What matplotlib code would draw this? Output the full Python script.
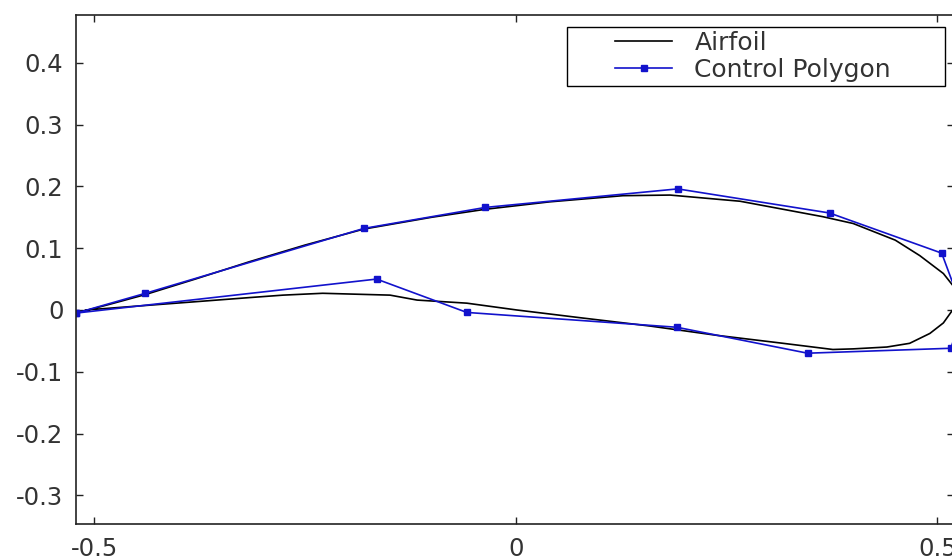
import matplotlib
matplotlib.use("Agg")
import matplotlib.pyplot as plt
from matplotlib.patches import Rectangle

# Airfoil outline: trailing edge -> upper surface -> nose -> lower surface -> trailing edge
airfoil_x = [-0.521, -0.482, -0.439, -0.380, -0.316, -0.250, -0.180, -0.100, -0.036,
             0.040, 0.127, 0.183, 0.266, 0.364, 0.400, 0.450, 0.479, 0.507, 0.518,
             0.527, 0.518, 0.507, 0.491, 0.467, 0.440, 0.400, 0.376, 0.317, 0.238,
             0.159, 0.079, 0.001, -0.058, -0.117, -0.149, -0.229, -0.276, -0.316,
             -0.383, -0.461, -0.509, -0.521]
airfoil_y = [-0.005, 0.009, 0.025, 0.050, 0.078, 0.105, 0.131, 0.150, 0.163,
             0.175, 0.185, 0.186, 0.176, 0.151, 0.140, 0.113, 0.088, 0.059, 0.040,
             0.020, 0.000, -0.021, -0.038, -0.054, -0.060, -0.063, -0.064, -0.054, -0.041,
             -0.026, -0.013, 0.000, 0.011, 0.016, 0.024, 0.027, 0.024, 0.020,
             0.013, 0.005, 0.000, -0.005]

# B-spline control polygon
poly_x = [-0.521, -0.439, -0.180, -0.036, 0.192, 0.372, 0.505, 0.530,
          0.516, 0.346, 0.191, -0.058, -0.165, -0.521]
poly_y = [-0.005, 0.027, 0.132, 0.166, 0.196, 0.157, 0.092, 0.000,
          -0.062, -0.070, -0.028, -0.004, 0.050, -0.005]

x_ticks = [-0.5, 0, 0.5]
x_tick_labels = ["-0.5", "0", "0.5"]
y_ticks = [-0.3, -0.2, -0.1, 0, 0.1, 0.2, 0.3, 0.4]
y_tick_labels = ["-0.3", "-0.2", "-0.1", "0", "0.1", "0.2", "0.3", "0.4"]

plt.rcParams["font.family"] = ["DejaVu Sans"]
TEXT = "#333333"

W, H = 953, 560
fig = plt.figure(figsize=(W / 100, H / 100), dpi=100)
fig.patch.set_facecolor("white")
ax = fig.add_axes([76 / W, 1 - 524 / H, (954 - 76) / W, (524 - 15) / H])

ax.plot(airfoil_x, airfoil_y, color="black", lw=1.2, label="Airfoil")
ax.plot(poly_x, poly_y, color="#1212cc", lw=1.2, marker="s", markersize=4,
        label="Control Polygon")

ax.set_xlim(-0.5214, 0.5196)
ax.set_ylim(-0.3465, 0.4775)
ax.set_xticks(x_ticks)
ax.set_xticklabels(x_tick_labels)
ax.set_yticks(y_ticks)
ax.set_yticklabels(y_tick_labels)
ax.tick_params(direction="in", length=5, width=1, top=True, right=True,
               labelsize=17.5, labelcolor=TEXT, pad=9, color="#222222")
for s in ax.spines.values():
    s.set_linewidth(1.2)
    s.set_color("#222222")

# legend frame drawn separately so its padding can be set freely
ax.add_patch(Rectangle((567 / W, 1 - 86 / H), (945 - 567) / W, (86 - 27) / H,
                       transform=fig.transFigure, facecolor="white",
                       edgecolor="black", lw=1.0, zorder=4, clip_on=False))
leg = ax.legend(loc="upper left", bbox_to_anchor=(615 / W, 1 - 31 / H),
                bbox_transform=fig.transFigure, borderaxespad=0, borderpad=0,
                fontsize=18, handlelength=2.3, handletextpad=0.88,
                labelspacing=0.12, frameon=False)
leg.set_zorder(6)
for t in leg.get_texts():
    t.set_color(TEXT)

fig.savefig("out.png", dpi=100)
